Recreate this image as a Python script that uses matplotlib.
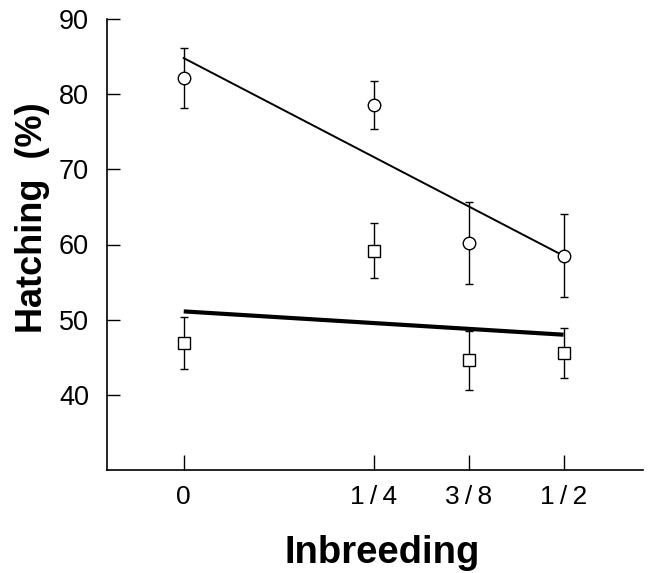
import matplotlib
matplotlib.use('Agg')
import matplotlib.pyplot as plt

plt.rcParams['font.family'] = ['Liberation Sans', 'DejaVu Sans']

# inbreeding coefficient and tick labels
inbreeding = [0, 0.25, 0.375, 0.5]
tick_labels = ['0', '1\u2009/\u20094', '3\u2009/\u20098', '1\u2009/\u20092']

# circles (upper group)
circ_mean = [82.2, 78.6, 60.2, 58.5]
circ_err = [4.0, 3.2, 5.4, 5.5]

# squares (lower group)
sq_mean = [46.9, 59.2, 44.6, 45.6]
sq_err = [3.4, 3.7, 3.9, 3.3]

# fitted regression lines (end points at 0 and 1/2)
line_x = [0, 0.5]
circ_fit = [84.8, 58.5]
sq_fit = [51.1, 48.0]

fig = plt.figure(figsize=(6.49, 5.73), dpi=100)
ax = fig.add_axes([107 / 649, 1 - 470 / 573, 536 / 649, 451 / 573])

ax.plot(line_x, circ_fit, color='black', lw=1.4, zorder=2)
ax.plot(line_x, sq_fit, color='black', lw=3.0, solid_capstyle='butt', zorder=2)

ax.errorbar(inbreeding, circ_mean, yerr=circ_err, fmt='o', mfc='white', mec='black',
            ms=9, mew=1.0, ecolor='black', elinewidth=1.0, capsize=3, capthick=1.0, zorder=3)
ax.errorbar(inbreeding, sq_mean, yerr=sq_err, fmt='s', mfc='white', mec='black',
            ms=8, mew=1.0, ecolor='black', elinewidth=1.0, capsize=3, capthick=1.0, zorder=3)

ax.set_xlim(-0.101, 0.6046)
ax.set_ylim(30, 90)
ax.set_xticks(inbreeding)
ax.set_xticklabels(tick_labels)
ax.set_yticks([40, 50, 60, 70, 80, 90])

ax.spines['top'].set_visible(False)
ax.spines['right'].set_visible(False)
ax.spines['left'].set_linewidth(1.2)
ax.spines['bottom'].set_linewidth(1.2)
ax.tick_params(axis='y', direction='in', length=9, width=1.0, pad=13, labelsize=19.5)
ax.tick_params(axis='x', direction='in', length=11, width=1.0, pad=11, labelsize=19)

fig.text(33 / 649, 1 - 218 / 573, 'Hatching  (%)', rotation=90, ha='center', va='center',
         fontsize=26, fontweight='bold')
fig.text(382 / 649, 1 - 563 / 573, 'Inbreeding', ha='center', va='baseline',
         fontsize=27.5, fontweight='bold')

fig.savefig('out.png', dpi=100)
